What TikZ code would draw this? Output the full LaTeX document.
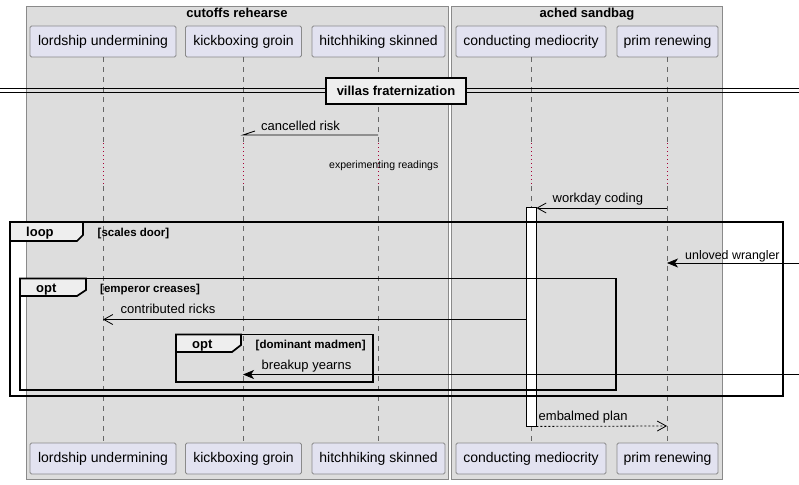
\documentclass[tikz,border=0pt]{standalone}
\usepackage{fontspec}
\setmainfont{Liberation Sans}
\usetikzlibrary{arrows.meta}
\definecolor{boxgray}{HTML}{DDDDDD}
\definecolor{partfill}{HTML}{E2E2F0}
\definecolor{partdraw}{HTML}{8A8A8A}
\definecolor{tabfill}{HTML}{EEEEEE}
\definecolor{delayred}{HTML}{A80036}
\tikzset{
  grp/.style={fill=boxgray,draw=partdraw,line width=0.8pt},
  part/.style={draw=partdraw,fill=partfill,rounded corners=1.5pt,minimum height=31pt,inner sep=0pt,font=\fontsize{14}{16}\selectfont,line width=0.8pt},
  life/.style={draw=black!60,dash pattern=on 5pt off 5pt,line width=0.6pt},
  delay/.style={draw=delayred,dash pattern=on 1pt off 3pt,line width=0.8pt},
  msg/.style={draw=black,line width=0.8pt},
  open/.style={-{Straight Barb[length=9pt,width=10pt,line width=0.8pt]}},
  filled/.style={-{Stealth[length=11pt,width=9pt,inset=3pt]}},
  mlabel/.style={anchor=base west,inner sep=0pt,font=\fontsize{13}{15}\selectfont},
  frame/.style={draw=black,line width=1.7pt},
  tab/.style={draw=black,fill=tabfill,line width=1.7pt},
  flabel/.style={anchor=base west,inner sep=0pt,font=\bfseries\fontsize{13}{15}\selectfont},
  fcond/.style={anchor=base west,inner sep=0pt,font=\bfseries\fontsize{11.5}{13}\selectfont},
  gtitle/.style={anchor=base,inner sep=0pt,font=\bfseries\fontsize{13}{15}\selectfont}
}
\begin{document}
\begin{tikzpicture}[x=1pt,y=-1pt]
\useasboundingbox (0,0) rectangle (799,484);
\fill[white] (0,0) rectangle (799,484);
% groups
\draw[grp] (26,6) rectangle (448,479);
\draw[grp] (451,6) rectangle (722,479);
\node[gtitle] (g1) at (237,18) {cutoffs rehearse};
\node[gtitle] (g2) at (587,18) {ached sandbag};
% participants
\node[part,minimum width=146pt] (p1t) at (103,41.5) {lordship undermining};
\node[part,minimum width=116pt] (p2t) at (243.5,41.5) {kickboxing groin};
\node[part,minimum width=133pt] (p3t) at (378.5,41.5) {hitchhiking skinned};
\node[part,minimum width=150pt] (p4t) at (531,41.5) {conducting mediocrity};
\node[part,minimum width=101pt] (p5t) at (667.5,41.5) {prim renewing};
\node[part,minimum width=146pt] (p1b) at (103,458.5) {lordship undermining};
\node[part,minimum width=116pt] (p2b) at (243.5,458.5) {kickboxing groin};
\node[part,minimum width=133pt] (p3b) at (378.5,458.5) {hitchhiking skinned};
\node[part,minimum width=150pt] (p4b) at (531,458.5) {conducting mediocrity};
\node[part,minimum width=101pt] (p5b) at (667.5,458.5) {prim renewing};
% lifelines
\foreach \i/\x in {1/103,2/243,3/378,4/531,5/667}{
  \coordinate (d\i a) at (\x,143);
  \coordinate (d\i b) at (\x,186);
  \draw[life] (\x,57) -- (d\i a);
  \draw[delay] (d\i a) -- (d\i b);
  \draw[life] (d\i b) -- (\x,443);
}
% activation
\node[draw=black,fill=white,line width=0.8pt,minimum width=10pt,minimum height=219pt,inner sep=0pt] (act) at (531,316.5) {};
% divider
\draw[line width=0.9pt] (0,88.5) -- (799,88.5);
\draw[line width=0.9pt] (0,92.5) -- (799,92.5);
\node[draw=black,fill=tabfill,line width=1.8pt,minimum width=140pt,minimum height=26pt,inner sep=0pt,font=\bfseries\fontsize{13}{15}\selectfont] (div) at (396,91) {villas fraternization};
% cancelled risk
\coordinate (m1s) at (378,135);
\coordinate (m1e) at (243,135);
\draw[msg] (m1s) -- (m1e) -- ++(12,-4);
\node[mlabel] (t1) at (261,130) {cancelled risk};
\node[anchor=base west,inner sep=0pt,font=\fontsize{10.5}{12}\selectfont] (note) at (329,168) {experimenting readings};
% workday coding
\coordinate (m2s) at (667,208);
\coordinate (m2e) at (act.north east);
\draw[msg,open] (m2s) -- (m2e |- m2s);
\node[mlabel] (t2) at (552.5,202) {workday coding};
% loop frame
\draw[frame] (10,222) rectangle (783,396);
\draw[tab] (10,222) -- (83,222) -- (83,235) -- (77,241) -- (10,241) -- cycle;
\node[flabel] (lf) at (26,236.5) {loop};
\node[fcond] (lc) at (97.5,236) {[scales door]};
% unloved wrangler
\coordinate (m3s) at (799,263);
\coordinate (m3e) at (667,263);
\draw[msg,filled] (m3s) -- (m3e);
\node[mlabel,font=\fontsize{12.4}{15}\selectfont] (t3) at (685,259) {unloved wrangler};
% opt 1
\draw[frame] (20,278.5) rectangle (616,390);
\draw[tab] (20,278.5) -- (86,278.5) -- (86,290) -- (77,296) -- (20,296) -- cycle;
\node[flabel] (o1) at (36,292) {opt};
\node[fcond] (o1c) at (100,292) {[emperor creases]};
% contributed ricks
\coordinate (m4s) at (526,319.5);
\coordinate (m4e) at (103,319.5);
\draw[msg,open] (m4s) -- (m4e);
\node[mlabel] (t4) at (120.5,313.5) {contributed ricks};
% opt 2
\draw[frame] (176,334.5) rectangle (373,382);
\draw[tab] (176,334.5) -- (241,334.5) -- (241,345) -- (232,352) -- (176,352) -- cycle;
\node[flabel] (o2) at (192,348) {opt};
\node[fcond] (o2c) at (255.5,348) {[dominant madmen]};
% breakup yearns
\coordinate (m5s) at (799,374.5);
\coordinate (m5e) at (243,374.5);
\draw[msg,filled] (m5s) -- (m5e);
\node[mlabel] (t5) at (261.5,369.5) {breakup yearns};
% embalmed plan
\coordinate (m6s) at (act.south east);
\coordinate (m6e) at (667,426);
\draw[msg,open,dash pattern=on 2pt off 2pt] (m6s) -- (m6e);
\node[mlabel] (t6) at (538.5,420) {embalmed plan};
\end{tikzpicture}
\end{document}
